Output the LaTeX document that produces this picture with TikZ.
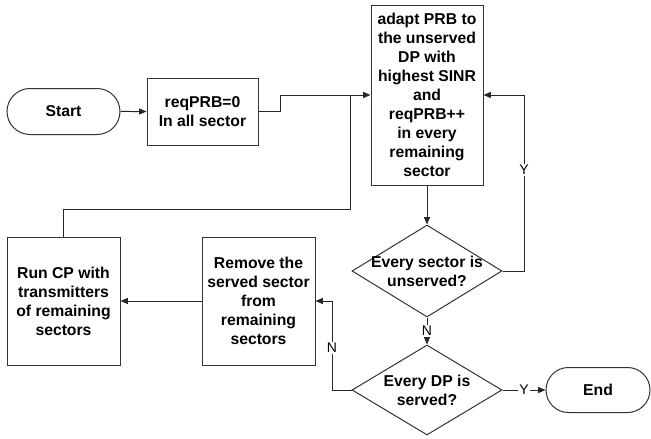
\documentclass[tikz,border=0pt]{standalone}
\usepackage{fontspec}
\setmainfont{Liberation Sans}
\usetikzlibrary{shapes.geometric,shapes.misc,arrows.meta}
\begin{document}
\begin{tikzpicture}[x=0.75pt,y=-0.75pt,
  every node/.style={font=\fontsize{11.8}{14.3}\selectfont\bfseries, align=center},
  box/.style={draw=black!80, line width=0.75pt, rectangle, inner sep=0pt},
  term/.style={draw=black!80, line width=0.75pt, rounded rectangle, inner sep=0pt},
  dec/.style={draw=black!80, line width=0.75pt, diamond, inner sep=0pt},
  conn/.style={draw=black!85, line width=0.75pt},
  arr/.style={conn, -{Triangle[length=5.5pt,width=4.5pt]}},
  lab/.style={font=\fontsize{10.5}{12}\selectfont, fill=white, inner sep=1pt}]
\useasboundingbox (0,0) rectangle (651,439);
\node[term, minimum width=84.75pt, minimum height=34.5pt] (start) at (63.5,111.5) {Start};
\node[box, minimum width=83.25pt, minimum height=50.25pt] (req) at (202.5,111.5) {reqPRB=0\\In all sector};
\node[box, minimum width=84pt, minimum height=135pt] (adapt) at (427,95) {adapt PRB to\\the unserved\\DP with\\highest SINR\\and\\reqPRB++\\in every\\remaining\\sector};
\node[dec, minimum width=112.5pt, minimum height=69pt, label=center:{Every sector is\\unserved?}] (d1) at (427,271) {};
\node[dec, minimum width=112.5pt, minimum height=67.5pt, label=center:{Every DP is\\served?}] (d2) at (427,390) {};
\node[box, minimum width=84.75pt, minimum height=96pt] (remove) at (258.5,301) {Remove the\\served sector\\from\\remaining\\sectors};
\node[box, minimum width=84.75pt, minimum height=96pt] (run) at (63.5,301) {Run CP with\\transmitters\\of remaining\\sectors};
\node[term, minimum width=78pt, minimum height=33.75pt] (end) at (598,390) {End};
\coordinate (j1) at (350,95);
\coordinate (j2) at (350,209);
\coordinate (k1) at (280,95);
\coordinate (k2) at (524,95);
\coordinate (k3) at (332,301);
\draw[arr] (start) -- (req);
\draw[arr] (req.east) -| (k1) -- (adapt.west);
\draw[conn] (run.north) |- (j2) -- (j1);
\draw[arr] (adapt) -- (d1);
\draw[arr] (d1.east) -| (k2) -- (adapt.east);
\node[lab] (ly1) at (524,170) {Y};
\draw[arr] (d1.south) -- node[lab] (ln1) {N} (d2.north);
\draw[arr] (d2.west) -| (k3) -- (remove.east);
\node[lab] (ln2) at (332,348) {N};
\draw[arr] (d2.east) -- node[lab] (ly2) {Y} (end.west);
\draw[arr] (remove) -- (run);
\end{tikzpicture}
\end{document}
